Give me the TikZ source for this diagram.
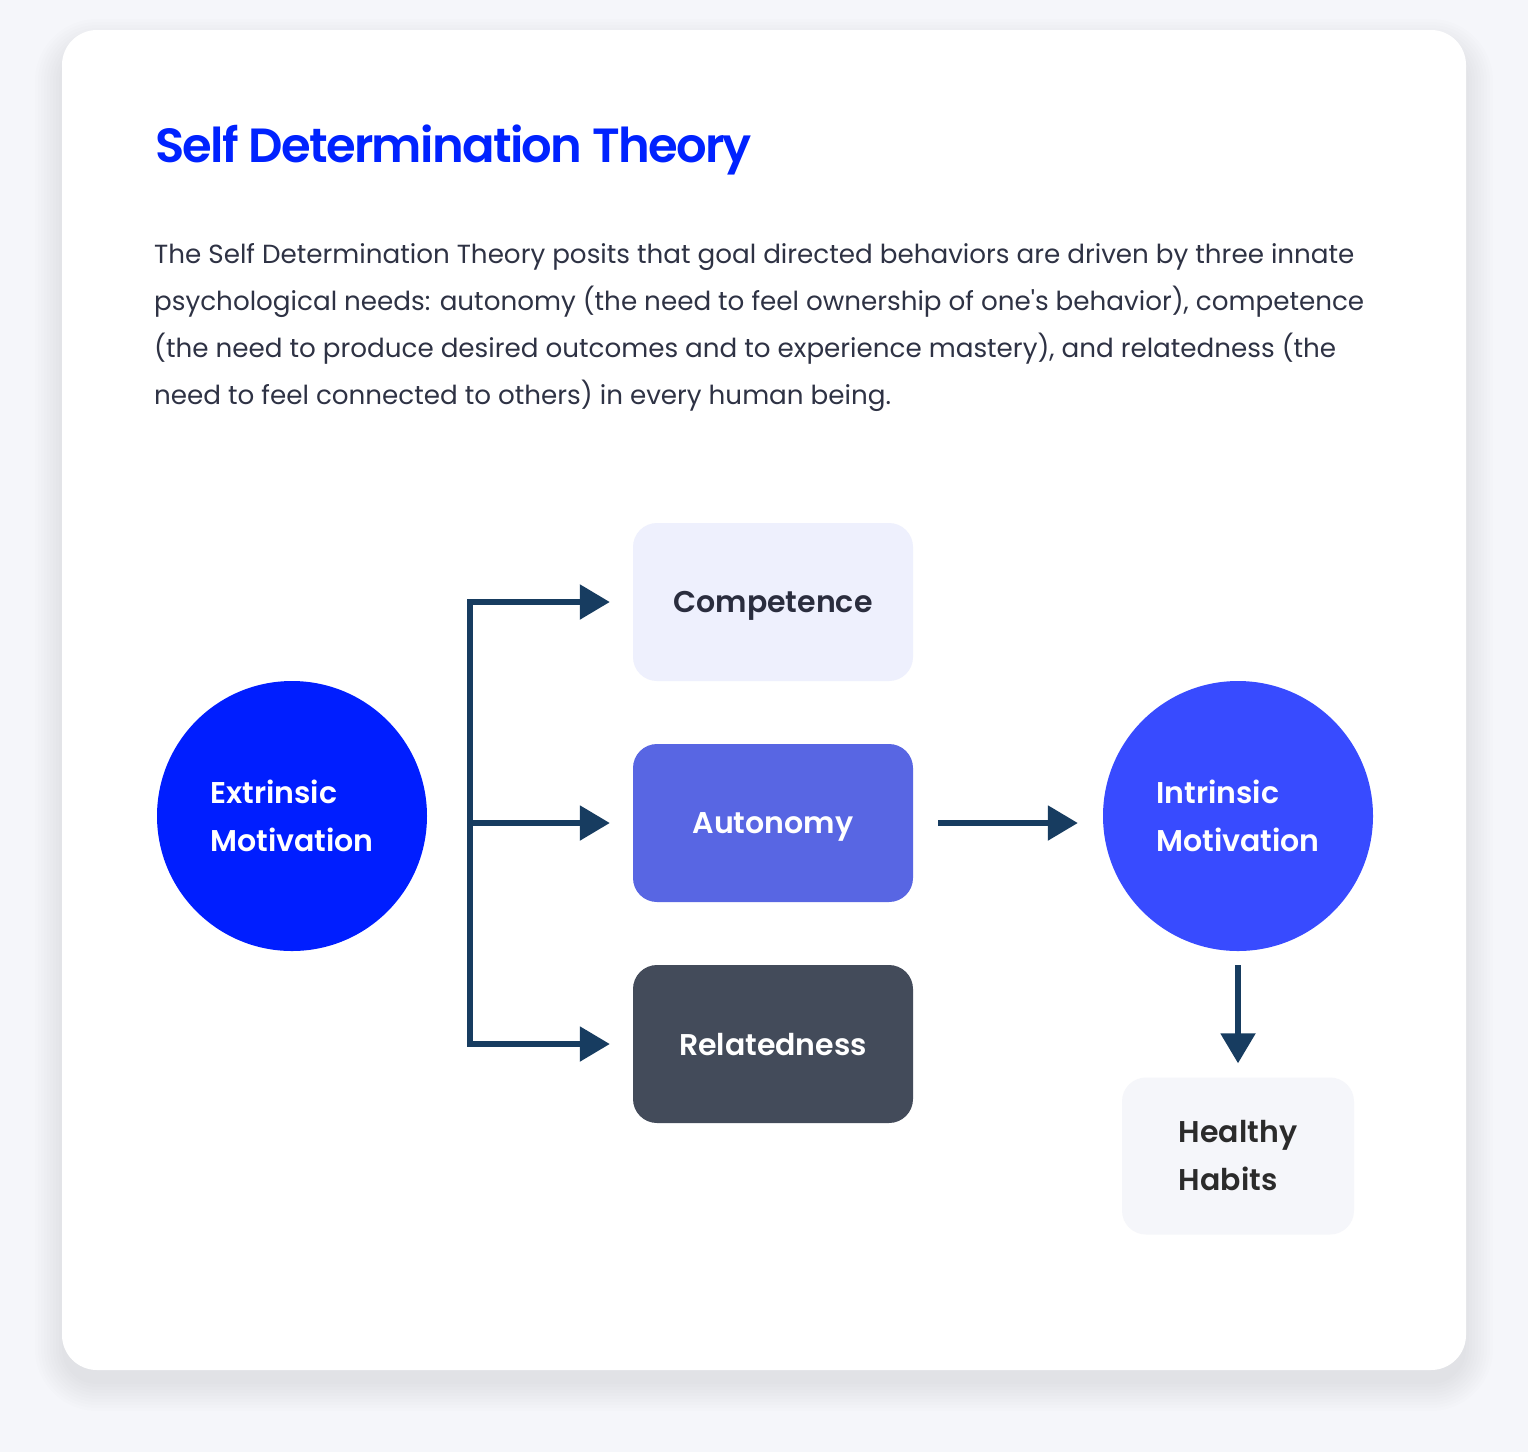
\documentclass[tikz,border=0pt]{standalone}
\usepackage{fontspec}
\setmainfont{Poppins}[BoldFont={Poppins SemiBold}]
\newfontfamily\introfont{Poppins}
\usetikzlibrary{arrows.meta}
\definecolor{pagebg}{HTML}{F5F6FA}
\definecolor{shadowcol}{HTML}{1E2A40}
\definecolor{titleblue}{HTML}{0022FF}
\definecolor{bodytext}{HTML}{2E3244}
\definecolor{extblue}{HTML}{001EFF}
\definecolor{intblue}{HTML}{384BFF}
\definecolor{compfill}{HTML}{EEF0FD}
\definecolor{autofill}{HTML}{5866E3}
\definecolor{relfill}{HTML}{434B5A}
\definecolor{needtext}{HTML}{2A2D3E}
\definecolor{habittext}{HTML}{2B2B2B}
\definecolor{arrowblue}{HTML}{173C60}

\begin{document}
\begin{tikzpicture}[x=1pt,y=-1pt,
  need/.style={rounded corners=24pt,minimum width=280pt,minimum height=158pt,inner sep=0pt,text depth=0pt,font=\fontsize{30}{48}\selectfont\bfseries},
  motive/.style={circle,minimum size=270pt,inner sep=0pt,text=white,align=left,font=\fontsize{30}{48}\selectfont\bfseries},
  link/.style={draw=arrowblue,line width=5.5pt,-{Triangle[length=30pt,width=34pt]}}]
  \fill[pagebg] (0,0) rectangle (1528,1452);
  \useasboundingbox (0,0) rectangle (1528,1452);
  \foreach \s [evaluate=\s as \r using 35+\s] in {0,3,...,27}
    \fill[shadowcol,opacity=0.006,rounded corners=\r pt] (62-\s,46-\s) rectangle (1466+\s,1384+\s);
  \fill[white,rounded corners=35pt] (62,30) rectangle (1466,1370);

  \node[anchor=base west,inner sep=0pt,text=titleblue,font=\fontsize{48}{58}\selectfont\bfseries\addfontfeature{LetterSpace=-3.5}] (title) at (155,162) {Self Determination Theory};
  \node[anchor=north west,inner sep=0pt,align=left,text=bodytext,font=\introfont\fontsize{26.2}{47}\selectfont] (intro) at (154,243) {The Self Determination Theory posits that goal directed behaviors are driven by three innate\\psychological needs: autonomy (the need to feel ownership of one's behavior), competence\\(the need to produce desired outcomes and to experience mastery), and relatedness (the\\need to feel connected to others) in every human being.};

  \node[motive,fill=extblue] (ext) at (292,816) {Extrinsic\\Motivation};
  \node[need,fill=compfill,text=needtext] (comp) at (773,602) {Competence};
  \node[need,fill=autofill,text=white] (auto) at (773,823) {Autonomy};
  \node[need,fill=relfill,text=white] (rel) at (773,1044) {Relatedness};
  \node[motive,fill=intblue] (int) at (1238,816) {Intrinsic\\Motivation};
  \node[need,fill=pagebg,minimum width=232pt,minimum height=157pt,text depth=,align=left,text=habittext] (habit) at (1238,1156) {Healthy\\Habits};

  \coordinate (fork) at (470,823);
  \draw[link,shorten >=23pt] (fork |- rel.west) -- (fork |- comp.west) -- (comp.west);
  \draw[link,shorten >=23pt] (fork) -- (auto.west);
  \draw[link,shorten >=23pt] (fork |- comp.west) -- (fork |- rel.west) -- (rel.west);
  \draw[link,shorten <=25pt,shorten >=25pt] (auto.east) -- (auto.east -| int.west);
  \draw[link,shorten <=14pt,shorten >=14pt] (int.south) -- (habit.north);
\end{tikzpicture}
\end{document}
